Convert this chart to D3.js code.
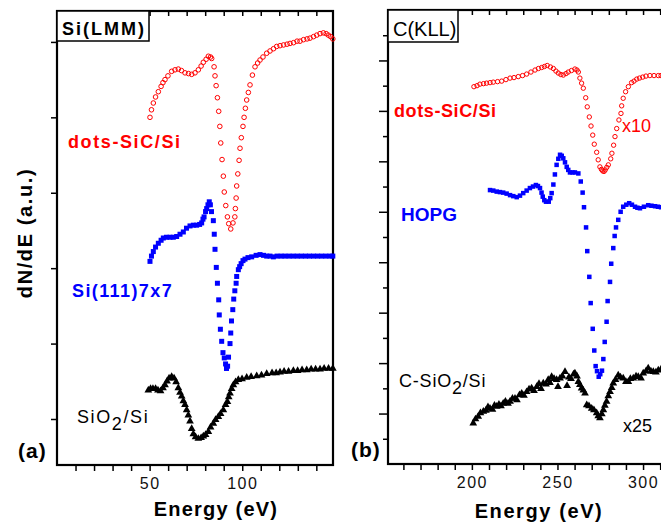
<!DOCTYPE html>
<html>
<head>
<meta charset="utf-8">
<script src="https://cdn.jsdelivr.net/npm/d3@7"></script>
<style>
  body { margin: 0; background: #fff; }
  svg { display: block; font-family: "Liberation Sans", Arial, sans-serif; }
</style>
</head>
<body>
<div id="chart-container"></div>
<script>
// Si(LMM) panel (a): [energy eV, dN/dE a.u.]
const siDotsSiC = [[50.2,5.00],[51.0,5.10],[52.0,5.19],[53.2,5.27],[54.7,5.34],[56.2,5.41],[57.2,5.46],[58.3,5.50],[59.9,5.55],[61.9,5.61],[63.7,5.63],[65.5,5.64],[67.2,5.62],[69.1,5.59],[71.0,5.58],[72.7,5.57],[74.5,5.59],[76.3,5.63],[77.8,5.68],[79.0,5.73],[80.5,5.77],[81.7,5.81],[82.9,5.80],[83.5,5.78],[84.8,5.67],[85.3,5.55],[85.9,5.42],[86.6,5.26],[87.3,5.08],[87.9,4.88],[88.4,4.66],[89.1,4.44],[89.8,4.22],[90.3,4.01],[91.1,3.83],[92.0,3.68],[92.7,3.59],[93.8,3.52],[95.0,3.60],[96.0,3.68],[96.3,3.79],[96.7,3.93],[97.0,4.09],[97.6,4.25],[98.3,4.43],[98.8,4.59],[99.5,4.73],[100.4,4.88],[101.0,5.00],[101.7,5.12],[102.4,5.23],[103.3,5.33],[104.2,5.43],[105.5,5.56],[106.9,5.67],[108.3,5.72],[109.6,5.76],[111.2,5.80],[113.2,5.85],[115.0,5.88],[116.9,5.91],[118.6,5.94],[120.4,5.95],[122.3,5.96],[124.2,5.97],[125.8,5.98],[127.7,5.99],[129.6,6.01],[131.2,6.01],[133.1,6.03],[135.0,6.04],[136.6,6.05],[138.5,6.07],[140.2,6.09],[142.0,6.11],[143.8,6.12],[145.3,6.11],[146.5,6.09],[147.7,6.07],[148.9,6.04]];

const siSi111 = [[50.2,3.09],[51.0,3.16],[52.0,3.22],[53.2,3.28],[54.7,3.33],[56.2,3.37],[57.4,3.40],[59.1,3.41],[61.0,3.41],[62.8,3.41],[64.6,3.42],[66.4,3.45],[68.2,3.48],[69.9,3.53],[71.8,3.56],[73.6,3.57],[75.4,3.57],[77.0,3.58],[78.1,3.60],[78.8,3.65],[79.4,3.68],[80.2,3.75],[80.8,3.79],[81.5,3.84],[82.2,3.88],[82.8,3.84],[83.4,3.75],[84.4,3.63],[84.9,3.45],[85.3,3.25],[86.0,3.01],[86.6,2.80],[87.3,2.58],[87.6,2.38],[88.2,2.19],[88.9,2.03],[89.6,1.88],[90.3,1.81],[91.0,1.73],[91.5,1.67],[92.1,1.70],[92.6,1.82],[93.4,2.00],[93.8,2.14],[94.2,2.30],[94.9,2.45],[95.4,2.59],[96.0,2.70],[96.7,2.80],[97.0,2.89],[97.9,2.98],[98.6,3.02],[99.4,3.06],[100.4,3.10],[101.5,3.12],[103.1,3.14],[105.1,3.15],[107.5,3.17],[109.6,3.18],[111.5,3.17],[113.2,3.16],[115.0,3.16],[116.8,3.15],[118.8,3.16],[121.0,3.16],[123.1,3.16],[125.3,3.16],[127.5,3.16],[129.7,3.16],[131.9,3.16],[134.1,3.16],[136.3,3.16],[138.5,3.16],[140.7,3.16],[142.9,3.16],[145.1,3.16],[147.3,3.16],[148.9,3.16]];

const siSiO2 = [[49.3,1.38],[50.5,1.40],[51.8,1.40],[53.2,1.40],[54.5,1.38],[55.9,1.37],[57.2,1.41],[58.3,1.45],[59.4,1.50],[60.5,1.54],[61.9,1.56],[63.2,1.54],[64.3,1.49],[65.5,1.41],[66.4,1.35],[67.3,1.30],[68.2,1.24],[69.1,1.19],[70.0,1.12],[70.9,1.05],[71.8,0.97],[72.7,0.87],[73.6,0.80],[74.8,0.76],[76.3,0.74],[77.8,0.75],[79.0,0.77],[80.2,0.79],[81.7,0.83],[82.9,0.89],[84.4,0.94],[85.6,0.99],[87.1,1.03],[88.3,1.07],[89.8,1.12],[91.0,1.19],[92.0,1.23],[92.7,1.29],[93.4,1.34],[94.3,1.40],[95.2,1.45],[96.4,1.49],[97.9,1.52],[99.9,1.53],[102.4,1.55],[104.8,1.56],[107.8,1.57],[110.4,1.58],[113.2,1.60],[116.1,1.61],[118.3,1.61],[120.4,1.62],[122.6,1.63],[125.0,1.63],[127.6,1.64],[129.9,1.64],[132.3,1.65],[134.8,1.65],[137.2,1.66],[139.6,1.66],[142.0,1.66],[144.2,1.67],[146.6,1.67],[148.9,1.67]];

// C(KLL) panel (b)
const cDotsSiC = [[201.2,7.48],[203.0,7.50],[204.7,7.53],[206.8,7.54],[208.6,7.55],[210.6,7.56],[212.5,7.57],[215.0,7.58],[217.4,7.59],[219.9,7.62],[222.3,7.65],[224.6,7.66],[227.1,7.68],[229.6,7.70],[232.0,7.73],[234.5,7.77],[236.9,7.81],[238.9,7.84],[240.8,7.86],[242.4,7.88],[244.0,7.90],[245.9,7.87],[247.6,7.84],[249.1,7.79],[250.5,7.75],[252.0,7.72],[253.4,7.71],[255.0,7.74],[256.3,7.77],[258.2,7.80],[260.2,7.83],[261.4,7.81],[262.2,7.77],[263.1,7.65],[264.1,7.55],[265.1,7.45],[266.5,7.26],[267.4,7.08],[268.6,6.88],[269.6,6.70],[270.6,6.52],[271.5,6.34],[272.9,6.18],[273.8,6.03],[274.8,5.89],[275.7,5.84],[276.4,5.81],[277.2,5.80],[277.9,5.83],[278.8,5.88],[279.7,5.93],[281.1,6.05],[281.8,6.16],[282.8,6.32],[283.6,6.49],[284.6,6.65],[285.9,6.82],[287.1,6.95],[287.5,7.10],[288.4,7.25],[289.8,7.38],[291.4,7.48],[293.3,7.56],[294.7,7.59],[296.3,7.63],[297.9,7.65],[299.8,7.67],[301.7,7.69],[304.0,7.70],[306.4,7.70],[308.9,7.70],[310.5,7.70]];

const cHOPG = [[210.6,5.43],[212.5,5.42],[214.5,5.40],[216.4,5.39],[218.3,5.38],[220.3,5.36],[222.3,5.33],[224.2,5.31],[226.2,5.29],[228.1,5.32],[230.0,5.37],[232.0,5.42],[233.9,5.47],[235.7,5.50],[237.4,5.53],[238.6,5.51],[239.8,5.47],[240.7,5.38],[241.4,5.30],[242.3,5.23],[243.3,5.20],[244.9,5.20],[245.8,5.27],[246.6,5.37],[247.6,5.54],[248.5,5.74],[249.5,5.93],[250.5,6.05],[251.5,6.13],[252.5,6.11],[253.4,6.06],[254.4,5.98],[255.4,5.89],[256.3,5.83],[257.3,5.78],[258.8,5.78],[260.2,5.78],[262.2,5.76],[263.6,5.60],[264.7,5.38],[265.5,5.09],[266.7,4.69],[267.4,4.22],[268.6,3.71],[269.4,3.19],[270.6,2.68],[271.5,2.25],[272.3,1.94],[273.1,1.84],[274.1,1.73],[275.0,1.78],[276.0,1.85],[276.8,2.08],[277.6,2.42],[278.7,2.82],[279.3,3.23],[280.7,3.61],[281.4,3.97],[282.6,4.28],[283.4,4.52],[284.2,4.69],[285.5,4.84],[286.9,5.00],[288.4,5.10],[290.2,5.14],[291.9,5.17],[293.5,5.14],[295.3,5.10],[296.7,5.08],[298.2,5.07],[300.5,5.10],[303.0,5.13],[304.9,5.12],[307.0,5.11],[308.7,5.10],[310.5,5.09]];

const cSiO2 = [[200.8,0.81],[202.1,0.89],[203.7,0.94],[205.0,1.01],[206.7,1.04],[208.2,1.06],[209.4,1.13],[210.6,1.10],[212.0,1.08],[213.2,1.16],[214.5,1.14],[215.8,1.18],[217.0,1.15],[218.3,1.20],[219.6,1.24],[221.1,1.20],[222.3,1.24],[223.7,1.30],[225.2,1.30],[226.3,1.27],[227.8,1.37],[229.1,1.40],[230.4,1.36],[232.0,1.43],[233.4,1.48],[234.9,1.50],[236.3,1.45],[237.9,1.53],[239.2,1.59],[240.4,1.49],[241.7,1.60],[243.3,1.58],[244.6,1.67],[245.6,1.61],[246.6,1.73],[248.0,1.69],[249.5,1.67],[250.3,1.53],[251.5,1.70],[252.9,1.74],[254.4,1.83],[255.6,1.55],[256.7,1.72],[257.9,1.69],[259.4,1.78],[260.2,1.80],[261.4,1.74],[262.2,1.63],[263.1,1.57],[264.1,1.50],[265.1,1.46],[266.1,1.40],[267.1,1.17],[268.4,1.15],[270.0,1.10],[271.3,1.07],[272.9,1.01],[273.8,0.95],[274.8,0.91],[275.9,0.99],[276.8,1.07],[277.7,1.16],[278.7,1.24],[279.7,1.35],[280.7,1.43],[281.7,1.51],[282.6,1.60],[283.9,1.67],[285.5,1.76],[286.8,1.72],[288.4,1.70],[290.0,1.63],[291.4,1.63],[292.6,1.69],[294.3,1.70],[295.9,1.74],[297.2,1.73],[298.8,1.70],[300.1,1.80],[301.7,1.84],[303.0,1.90],[304.6,1.84],[306.0,1.83],[307.5,1.82],[308.9,1.86],[310.5,1.88]];

const xTicksA = [10,20,30,40,50,60,70,80,90,100,110,120,130,140];
const xLabelsA = [50,100];
const yTicksA = [1,2,3,4,5,6];
const xTicksB = [160,170,180,190,200,210,220,230,240,250,260,270,280,290,300,310];
const xLabelsB = [200,250,300];
const yMajorB = [1,2,3,4,5,6,7,8];
const yMinorB = [0.5,1.5,2.5,3.5,4.5,5.5,6.5,7.5,8.5];

const RED = "#ff0000", BLUE = "#0000ff", BLACK = "#000000";

const svg = d3.select("#chart-container").append("svg")
    .attr("width", 661).attr("height", 527);

function drawPanel(p) {
    const g = svg.append("g");

    // ticks
    g.append("g").attr("transform", `translate(0,${p.y.range()[0]})`)
        .call(d3.axisBottom(p.x).tickValues(p.xTicks).tickSize(6).tickSizeOuter(0)
            .tickFormat(d => p.xLabels.includes(d) ? d : ""))
        .call(a => a.select(".domain").remove())
        .call(a => a.selectAll("line").attr("stroke-width", 1.5))
        .call(a => a.selectAll("text").attr("font-size", 16).attr("letter-spacing", 1.5)
            .attr("font-family", "Liberation Sans, Arial, sans-serif").attr("dy", "0.95em").attr("fill", "#111"));

    g.append("g").attr("transform", `translate(0,${p.y.range()[1]})`)
        .call(d3.axisBottom(p.x).tickValues(p.xTicks).tickSize(5).tickSizeOuter(0).tickFormat(""))
        .call(a => a.select(".domain").remove())
        .call(a => a.selectAll("line").attr("stroke-width", 1.5));

    p.yAxes.forEach(ya => {
        g.append("g").attr("transform", `translate(${p.x.range()[0]},0)`)
            .call(d3.axisLeft(p.y).tickValues(ya.values).tickSize(ya.size).tickSizeOuter(0).tickFormat(""))
            .call(a => a.select(".domain").remove())
            .call(a => a.selectAll("line").attr("stroke-width", 1.5));
    });

    // frame
    g.append("rect")
        .attr("x", p.x.range()[0]).attr("y", p.y.range()[1])
        .attr("width", p.x.range()[1] - p.x.range()[0])
        .attr("height", p.y.range()[0] - p.y.range()[1])
        .attr("fill", "none").attr("stroke", BLACK).attr("stroke-width", 2.2);

    // title box
    const tb = g.append("g");
    tb.append("rect").attr("x", p.x.range()[0]).attr("y", p.y.range()[1])
        .attr("width", p.box.w).attr("height", p.box.h)
        .attr("fill", "#fff").attr("stroke", BLACK).attr("stroke-width", 1.5);
    tb.append("text").attr("x", p.x.range()[0] + 5).attr("y", p.y.range()[1] + p.box.base)
        .attr("font-size", p.box.size).attr("font-weight", p.box.weight)
        .attr("letter-spacing", p.box.ls).text(p.box.text);

    return g;
}

function drawSeries(g, data, x, y, kind, color, size) {
    const sel = g.append("g").selectAll("path").data(data).enter();
    if (kind === "circle") {
        sel.append("circle").attr("cx", d => x(d[0])).attr("cy", d => y(d[1]))
            .attr("r", size).attr("fill", "none").attr("stroke", color).attr("stroke-width", 1);
    } else if (kind === "square") {
        sel.append("rect").attr("x", d => x(d[0]) - size / 2).attr("y", d => y(d[1]) - size / 2)
            .attr("width", size).attr("height", size).attr("fill", color);
    } else {
        const tri = d3.symbol().type(d3.symbolTriangle).size(size);
        sel.append("path").attr("d", tri)
            .attr("transform", d => `translate(${x(d[0])},${y(d[1])})`).attr("fill", color);
    }
}

function label(x, y, txt, opts) {
    const t = svg.append("text").attr("x", x).attr("y", y)
        .attr("font-size", opts.size).attr("font-weight", opts.weight || "normal")
        .attr("letter-spacing", opts.ls || 0).attr("fill", opts.color || BLACK);
    if (opts.rotate) t.attr("transform", `rotate(-90,${x},${y})`).attr("text-anchor", "middle");
    if (opts.anchor) t.attr("text-anchor", opts.anchor);
    if (Array.isArray(txt)) {
        txt.forEach(s => t.append("tspan").attr("dy", s.dy || 0).text(s.t));
    } else t.text(txt);
    return t;
}

// panel (a)
const xA = d3.scaleLinear().domain([0, 149]).range([57, 333]);
const yA = d3.scaleLinear().domain([0.39, 6.41]).range([465, 11]);
const gA = drawPanel({
    x: xA, y: yA, xTicks: xTicksA, xLabels: xLabelsA,
    yAxes: [{ values: yTicksA, size: 6 }],
    box: { w: 92, h: 30, base: 24, size: 18, weight: "bold", ls: 2, text: "Si(LMM)" }
});
drawSeries(gA, siSiO2, xA, yA, "triangle", BLACK, 26);
drawSeries(gA, siSi111, xA, yA, "square", BLUE, 5);
drawSeries(gA, siDotsSiC, xA, yA, "circle", RED, 2.3);

// panel (b)
const xB = d3.scaleLinear().domain([151, 312]).range([388, 663.6]);
const yB = d3.scaleLinear().domain([0, 9]).range([464, 10]);
const gB = drawPanel({
    x: xB, y: yB, xTicks: xTicksB, xLabels: xLabelsB,
    yAxes: [{ values: yMajorB, size: 9 }, { values: yMinorB, size: 5 }],
    box: { w: 70, h: 32, base: 26, size: 20, weight: "normal", ls: 0, text: "C(KLL)" }
});
drawSeries(gB, cSiO2, xB, yB, "triangle", BLACK, 26);
drawSeries(gB, cHOPG, xB, yB, "square", BLUE, 4.5);
drawSeries(gB, cDotsSiC, xB, yB, "circle", RED, 2.2);

// labels panel (a)
label(68, 148, "dots-SiC/Si", { size: 18, weight: "bold", ls: 1.6, color: RED });
label(72, 297, "Si(111)7x7", { size: 18, weight: "bold", ls: 1.4, color: BLUE });
label(77, 423, [{ t: "SiO" }, { t: "2", dy: 7 }, { t: "/Si", dy: -7 }], { size: 18, ls: 1.6 });
label(18, 458, "(a)", { size: 21, weight: "bold", ls: 1 });
label(32, 233, "dN/dE (a.u.)", { size: 20, weight: "bold", ls: 1.6, rotate: true });
label(216, 516, "Energy (eV)", { size: 20, weight: "bold", ls: 1.2, anchor: "middle" });

// labels panel (b)
label(394, 117, "dots-SiC/Si", { size: 18, weight: "bold", ls: 0.6, color: RED });
label(622, 132, "x10", { size: 18, color: RED });
label(401, 221, "HOPG", { size: 19, weight: "bold", color: BLUE });
label(399, 387, [{ t: "C-SiO" }, { t: "2", dy: 7 }, { t: "/Si", dy: -7 }], { size: 18, ls: 0.8 });
label(623, 432, "x25", { size: 18 });
label(351, 457, "(b)", { size: 21, weight: "bold", ls: 1 });
label(539, 518, "Energy (eV)", { size: 20, weight: "bold", ls: 1.6, anchor: "middle" });
</script>
</body>
</html>
